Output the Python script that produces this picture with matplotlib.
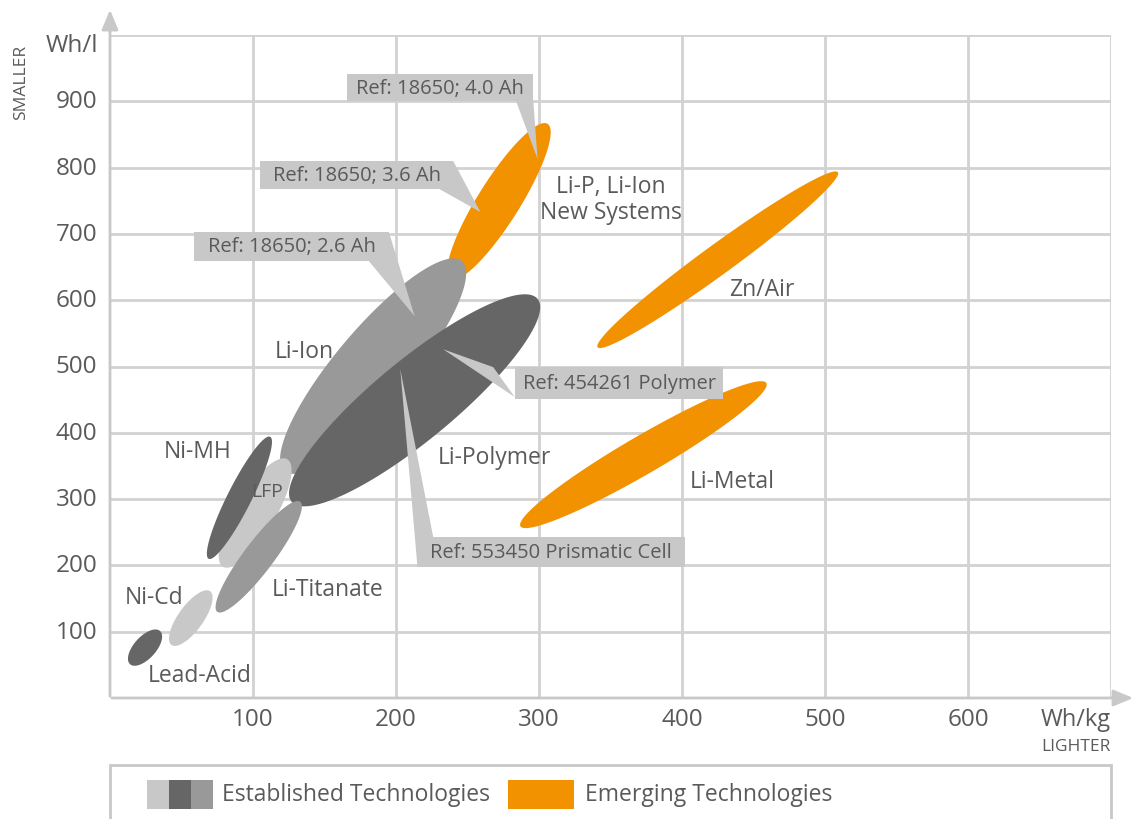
import matplotlib
matplotlib.use('Agg')
import matplotlib.pyplot as plt
import numpy as np
from matplotlib.patches import Polygon, Rectangle

plt.rcParams['font.family'] = ['Open Sans', 'DejaVu Sans']

# Technology areas: long axis end points (Wh/kg, Wh/l)
names = ['Li-P New', 'Li-Ion', 'LFP', 'Li-Polymer', 'Li-Titanate', 'Ni-MH', 'Ni-Cd', 'Lead-Acid',
         'Zn/Air', 'Li-Metal']
x_start = [238, 122, 79, 127, 75, 69, 43, 14, 341, 287]
y_start = [632, 342, 198, 296, 130, 210, 80, 51, 529, 259]
x_end = [306, 246, 124, 299, 133, 112, 70, 35, 509, 459]
y_end = [866, 659, 360, 602, 296, 394, 161, 101, 793, 475]
# minor axis thickness in pixels
thickness = [42, 74, 40, 80, 30, 24, 25, 22, 30, 38]

DARK = '#666666'
MID = '#999999'
LIGHT = '#c8c8c8'
ORANGE = '#f39200'
colors = [ORANGE, MID, LIGHT, DARK, MID, DARK, LIGHT, DARK, ORANGE, ORANGE]

# area labels
label_text = ['Lead-Acid', 'Ni-Cd', 'Ni-MH', 'LFP', 'Li-Titanate', 'Li-Ion', 'Li-Polymer',
              'Li-P, Li-Ion\nNew Systems', 'Zn/Air', 'Li-Metal']
label_x = [63, 31, 61, 110, 152, 136, 269, 350, 456, 435]
label_y = [35, 152, 373, 312, 164, 523, 363, 753, 617, 327]

# callouts: box (x0, x1, y0, y1) and pointer triangle
ref_text = ['Ref: 18650; 4.0 Ah', 'Ref: 18650; 3.6 Ah', 'Ref: 18650; 2.6 Ah',
            'Ref: 454261 Polymer', 'Ref: 553450 Prismatic Cell']
ref_box = [(166, 296, 900, 941), (105, 240, 768, 810), (59, 195, 659, 703),
           (283, 429, 451, 499), (215, 402, 198, 243)]
ref_pointer = [[(284, 900), (296, 900), (299, 813)],
               [(230, 768), (240, 810), (259, 733)],
               [(181, 659), (195, 703), (213, 576)],
               [(233, 526), (268, 499), (283, 454)],
               [(203, 496), (215, 198), (226, 243)]]

x_ticks = [100, 200, 300, 400, 500, 600]
y_ticks = [100, 200, 300, 400, 500, 600, 700, 800, 900]

W, H = 1136, 820
fig = plt.figure(figsize=(W / 100, H / 100), dpi=100)
ax = fig.add_axes([110 / W, 121 / H, 1001 / W, 663 / H])
ax.set_xlim(0, 700)
ax.set_ylim(0, 1000)
for s in ax.spines.values():
    s.set_visible(False)
ax.set_xticks([])
ax.set_yticks([])

GRID = '#d2d2d2'
for v in range(100, 701, 100):
    ax.axvline(v, color=GRID, lw=2, zorder=0)
for v in range(100, 1001, 100):
    ax.axhline(v, color=GRID, lw=2, zorder=0)

TXT = '#5a5a5a'
for v in x_ticks:
    ax.text(v, -32, str(v), ha='center', va='center', fontsize=17.5, color=TXT)
for v in y_ticks:
    ax.text(-9, v, str(v), ha='right', va='center', fontsize=17.5, color=TXT)

# axis arrows
ax.annotate('', xy=(1136 / W, 121 / H), xytext=(109 / W, 121 / H), xycoords='figure fraction',
            arrowprops=dict(arrowstyle='-|>,head_length=1.2,head_width=0.5', color=LIGHT, lw=2))
ax.annotate('', xy=(110 / W, (H - 8) / H), xytext=(110 / W, 120 / H), xycoords='figure fraction',
            arrowprops=dict(arrowstyle='-|>,head_length=1.2,head_width=0.5', color=LIGHT, lw=2))

fig.text(72 / W, 1 - 46 / H, 'Wh/l', ha='center', va='center', fontsize=17.5, color=TXT)
fig.text(21 / W, 1 - 82 / H, 'SMALLER', ha='center', va='center', rotation=90, fontsize=12.5,
         color=TXT)
fig.text(1111 / W, 1 - 720 / H, 'Wh/kg', ha='right', va='center', fontsize=17, color=TXT)
fig.text(1111 / W, 1 - 747 / H, 'LIGHTER', ha='right', va='center', fontsize=12.5, color=TXT)

# ellipses, built in pixel space so they look like the rotated shapes
to_px = ax.transData
to_data = ax.transData.inverted()
t = np.linspace(0, 2 * np.pi, 200)
for i in range(len(names)):
    p0 = to_px.transform((x_start[i], y_start[i]))
    p1 = to_px.transform((x_end[i], y_end[i]))
    c = (p0 + p1) / 2
    d = p1 - p0
    a = np.hypot(d[0], d[1]) / 2
    u = d / (2 * a)
    n = np.array([-u[1], u[0]])
    b = thickness[i] / 2
    pts = c + np.outer(a * np.cos(t), u) + np.outer(b * np.sin(t), n)
    ax.add_patch(Polygon(to_data.transform(pts), closed=True, facecolor=colors[i],
                         edgecolor='none', zorder=2 + i * 0.1))

for i in range(len(label_text)):
    fs = 14 if label_text[i] == 'LFP' else 16.5
    ax.text(label_x[i], label_y[i], label_text[i], ha='center', va='center', fontsize=fs,
            color=TXT, zorder=5, linespacing=1.1)

for i in range(len(ref_text)):
    x0, x1, y0, y1 = ref_box[i]
    ax.add_patch(Rectangle((x0, y0), x1 - x0, y1 - y0, facecolor=LIGHT, edgecolor='none', zorder=6))
    ax.add_patch(Polygon(ref_pointer[i], closed=True, facecolor=LIGHT, edgecolor='none', zorder=6))
    ax.text((x0 + x1) / 2, (y0 + y1) / 2, ref_text[i], ha='center', va='center', fontsize=14.5,
            color=TXT, zorder=7)

# legend box
fig.patches.append(Rectangle((110 / W, -0.01), 1001 / W, (H - 766) / H + 0.01,
                             transform=fig.transFigure, facecolor='white', edgecolor=LIGHT, lw=2))
for k, col in enumerate([LIGHT, DARK, MID]):
    fig.patches.append(Rectangle(((147 + 22 * k) / W, 1 - 810 / H), 22 / W, 29 / H,
                                 transform=fig.transFigure, facecolor=col, edgecolor='none'))
fig.patches.append(Rectangle((508 / W, 1 - 810 / H), 66 / W, 29 / H,
                             transform=fig.transFigure, facecolor=ORANGE, edgecolor='none'))
fig.text(222 / W, 1 - 795 / H, 'Established Technologies', ha='left', va='center', fontsize=16.5,
         color=TXT)
fig.text(585 / W, 1 - 795 / H, 'Emerging Technologies', ha='left', va='center', fontsize=16.5,
         color=TXT)

fig.savefig('out.png', dpi=100)
